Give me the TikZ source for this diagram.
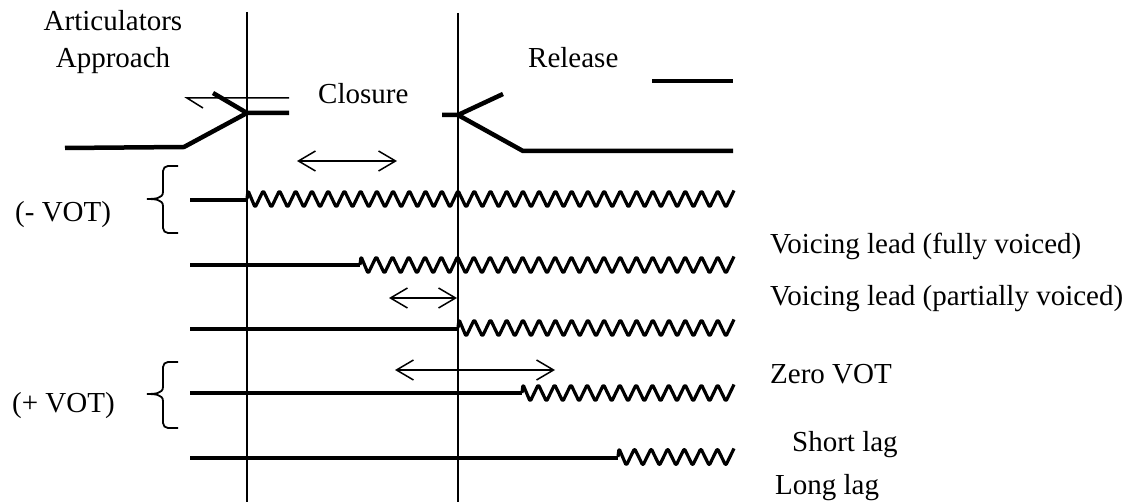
\documentclass[tikz,border=0pt]{standalone}
\usepackage{fontspec}
\setmainfont{Liberation Serif}
\usetikzlibrary{arrows.meta}

% Voicing trace: a zigzag from x=#1 to x=#2 around the line y=#3
\newcommand\voicewave[3]{%
  \pgfmathtruncatemacro\wn{round((#2-#1)/16.5)}%
  \pgfmathsetmacro\wp{(#2-#1)/\wn}%
  \draw[wave] (#1,#3) -- ++(1,-8.5)
    \foreach \i in {1,...,\wn} { -- ({#1+(\i-0.5)*\wp},{#3+8.5}) -- ({#1+\i*\wp},{#3-8.5}) };%
}

\begin{document}
\begin{tikzpicture}[x=1pt,y=-1pt,
  vline/.style={line width=2.2pt},
  artic/.style={line width=4.5pt},
  trace/.style={line width=3.4pt},
  wave/.style={line width=3.2pt, rounded corners=1.5pt, line join=round},
  span/.style={line width=1.5pt, {Straight Barb[length=17pt,width=20pt]}-{Straight Barb[length=17pt,width=20pt]}},
  brace/.style={line width=1.8pt},
  lbl/.style={font=\fontsize{29}{34}\selectfont, inner sep=0pt, anchor=base west},
  lblc/.style={font=\fontsize{29}{34}\selectfont, inner sep=0pt, anchor=base}]

\useasboundingbox[fill=white] (0,0) rectangle (1135,502);

% time markers: closure onset and release
\coordinate (c1t) at (247,12);  \coordinate (c1b) at (247,502);
\coordinate (c2t) at (458,13);  \coordinate (c2b) at (458,502);
\draw[vline] (c1t) -- (c1b);
\draw[vline] (c2t) -- (c2b);

% articulator movement
\coordinate (a0) at (65,148);
\coordinate (a1) at (184,147);
\coordinate (a2) at (247,113);
\coordinate (a3) at (289,113);
\coordinate (a4) at (213,93);
\draw[artic] (a0) -- (a1) -- (a2) -- (a3);
\draw[artic] (a4) -- (a2);
\coordinate (r0) at (442,115);
\coordinate (r1) at (458,115);
\coordinate (r2) at (503,94);
\coordinate (r3) at (523,151);
\coordinate (r4) at (733,151);
\draw[artic] (r0) -- (r1) -- (r2);
\draw[artic] (r1) -- (r3) -- (r4);
\coordinate (h0) at (652,81);
\coordinate (h1) at (733,81);
\draw[artic] (h0) -- (h1);

% approach direction mark
\coordinate (p0) at (289,98);
\coordinate (p1) at (187,98);
\coordinate (p2) at (203,108);
\draw[line width=1.5pt] (p0) -- (p1) -- (p2);

% labels on top
\node[lblc] (artic) at (113,31) {Articulators};
\node[lblc] (appr) at (113,68) {Approach};
\node[lbl] (clos) at (318,104) {Closure};
\node[lbl] (rel) at (528,68) {Release};

% interval arrows
\coordinate (d1a) at (297,161); \coordinate (d1b) at (397,161);
\draw[span] (d1a) -- (d1b);
\coordinate (d2a) at (389,298); \coordinate (d2b) at (457,298);
\draw[span] (d2a) -- (d2b);
\coordinate (d3a) at (395,370); \coordinate (d3b) at (555,370);
\draw[span] (d3a) -- (d3b);

% voicing traces
\coordinate (v1s) at (190,200); \coordinate (v1e) at (247,200);
\draw[trace] (v1s) -- (v1e);
\voicewave{247}{734}{199}
\coordinate (v2s) at (190,265); \coordinate (v2e) at (360,265);
\draw[trace] (v2s) -- (v2e);
\voicewave{360}{734}{265}
\coordinate (v3s) at (190,329); \coordinate (v3e) at (458,329);
\draw[trace] (v3s) -- (v3e);
\voicewave{458}{734}{328}
\coordinate (v4s) at (190,393); \coordinate (v4e) at (522,393);
\draw[trace] (v4s) -- (v4e);
\voicewave{522}{734}{393}
\coordinate (v5s) at (190,458); \coordinate (v5e) at (618,458);
\draw[trace] (v5s) -- (v5e);
\voicewave{618}{734}{457}

% braces
\draw[brace] (178,166) -- (168,166) to[out=180,in=90] (163,171) -- (163,192)
  to[out=-90,in=0] (147,199) to[out=0,in=90] (163,206) -- (163,228)
  to[out=-90,in=180] (168,233) -- (178,233);
\draw[brace] (178,362) -- (168,362) to[out=180,in=90] (163,367) -- (163,387)
  to[out=-90,in=0] (147,394) to[out=0,in=90] (163,401) -- (163,423)
  to[out=-90,in=180] (168,428) -- (178,428);

\node[lbl] (neg) at (15,222) {(- VOT)};
\node[lbl] (pos) at (12,413) {(+ VOT)};

% category labels
\node[lbl] (t1) at (770,254) {Voicing lead (fully voiced)};
\node[lbl] (t2) at (770,306) {Voicing lead (partially voiced)};
\node[lbl] (t3) at (770,384) {Zero VOT};
\node[lbl] (t4) at (792,451) {Short lag};
\node[lbl] (t5) at (775,494) {Long lag};

\end{tikzpicture}
\end{document}
